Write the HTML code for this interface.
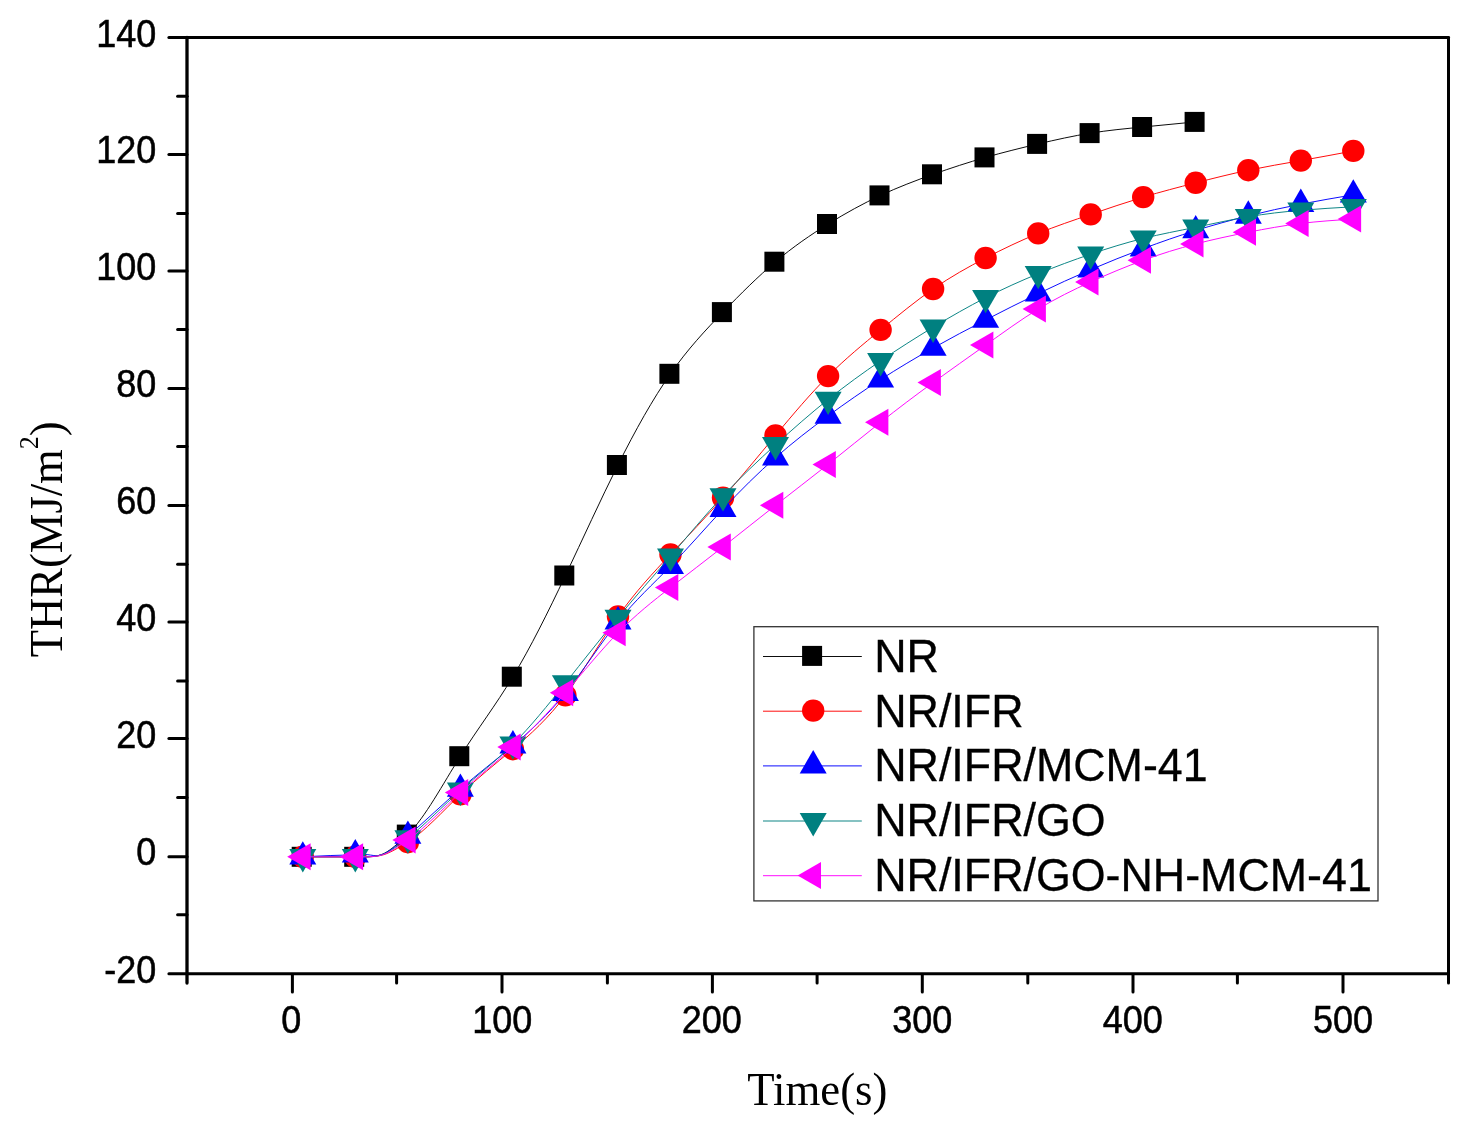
<!DOCTYPE html>
<html><head><meta charset="utf-8"><title>THR</title>
<style>html,body{margin:0;padding:0;background:#fff}svg{display:block}text{font-family:"Liberation Sans",sans-serif;fill:#000}.s{font-family:"Liberation Serif",serif}</style></head><body>
<svg width="1472" height="1136" viewBox="0 0 1472 1136">
<rect width="1472" height="1136" fill="#fff"/>
<path d="M302.81,856.80 C311.91,856.82 321.01,856.83 330.12,856.80 C338.52,856.77 346.93,856.70 355.33,856.80 C359.53,856.85 363.73,856.95 367.94,856.80 C371.44,856.68 374.94,856.39 378.44,855.47 C381.24,854.73 384.04,853.60 386.85,851.91 C390.35,849.80 393.85,846.84 397.35,843.91 C400.85,840.98 404.35,838.09 407.86,834.58 C425.36,817.03 442.87,784.06 460.38,756.21 C477.89,728.37 495.40,705.66 512.90,676.68 C530.41,647.70 547.92,612.45 565.43,575.51 C582.94,538.57 600.45,499.95 617.95,464.98 C635.46,430.02 652.97,398.73 670.48,373.76 C687.99,348.78 705.50,330.13 723.00,312.06 C740.51,293.98 758.02,276.48 775.53,261.71 C793.04,246.93 810.55,234.89 828.06,224.05 C845.56,213.20 863.07,203.56 880.58,195.39 C898.09,187.23 915.60,180.54 933.11,174.34 C950.61,168.13 968.12,162.40 985.63,157.38 C1003.14,152.36 1020.65,148.04 1038.15,143.93 C1055.66,139.81 1073.17,135.90 1090.68,133.11 C1108.19,130.32 1125.70,128.65 1143.20,126.97 C1160.71,125.29 1178.22,123.58 1195.73,121.88" fill="none" stroke="#000000" stroke-width="0.95"/>
<rect x="291.7" y="846.8" width="20" height="20" fill="#000000"/>
<rect x="344.2" y="846.8" width="20" height="20" fill="#000000"/>
<rect x="396.8" y="824.6" width="20" height="20" fill="#000000"/>
<rect x="449.3" y="746.2" width="20" height="20" fill="#000000"/>
<rect x="501.8" y="666.7" width="20" height="20" fill="#000000"/>
<rect x="554.3" y="565.5" width="20" height="20" fill="#000000"/>
<rect x="606.9" y="455.0" width="20" height="20" fill="#000000"/>
<rect x="659.4" y="363.8" width="20" height="20" fill="#000000"/>
<rect x="711.9" y="302.1" width="20" height="20" fill="#000000"/>
<rect x="764.4" y="251.7" width="20" height="20" fill="#000000"/>
<rect x="817.0" y="214.0" width="20" height="20" fill="#000000"/>
<rect x="869.5" y="185.4" width="20" height="20" fill="#000000"/>
<rect x="922.0" y="164.3" width="20" height="20" fill="#000000"/>
<rect x="974.5" y="147.4" width="20" height="20" fill="#000000"/>
<rect x="1027.1" y="133.9" width="20" height="20" fill="#000000"/>
<rect x="1079.6" y="123.1" width="20" height="20" fill="#000000"/>
<rect x="1132.1" y="117.0" width="20" height="20" fill="#000000"/>
<rect x="1184.6" y="111.9" width="20" height="20" fill="#000000"/>
<path d="M302.81,856.80 C311.91,856.81 321.01,856.82 330.12,856.80 C338.52,856.78 346.93,856.73 355.33,856.80 C359.53,856.83 363.73,856.90 367.94,856.80 C371.44,856.72 374.94,856.53 378.44,855.92 C381.24,855.44 384.04,854.69 386.85,853.58 C390.35,852.20 393.85,850.26 397.35,848.32 C400.85,846.38 404.35,844.45 407.86,842.18 C425.36,830.84 442.87,811.13 460.38,794.40 C477.89,777.68 495.40,763.94 512.90,749.20 C530.41,734.45 547.92,718.70 565.43,695.40 C582.94,672.09 600.45,641.23 617.95,616.45 C635.46,591.67 652.97,572.97 670.48,554.46 C687.99,535.94 705.50,517.60 723.00,497.73 C740.51,477.86 758.02,456.46 775.53,435.39 C793.04,414.33 810.55,393.61 828.06,376.09 C845.56,358.58 863.07,344.27 880.58,329.90 C898.09,315.52 915.60,301.08 933.11,288.96 C950.61,276.84 968.12,267.04 985.63,257.96 C1003.14,248.89 1020.65,240.54 1038.15,233.40 C1055.66,226.27 1073.17,220.36 1090.68,214.40 C1108.19,208.44 1125.70,202.43 1143.20,197.15 C1160.71,191.86 1178.22,187.31 1195.73,182.82 C1213.24,178.33 1230.75,173.91 1248.26,170.24 C1265.76,166.58 1283.27,163.69 1300.78,160.60 C1318.29,157.51 1335.80,154.23 1353.30,150.95" fill="none" stroke="#ff0000" stroke-width="0.95"/>
<circle cx="302.8" cy="856.8" r="11.2" fill="#ff0000"/>
<circle cx="355.3" cy="856.8" r="11.2" fill="#ff0000"/>
<circle cx="407.9" cy="842.2" r="11.2" fill="#ff0000"/>
<circle cx="460.4" cy="794.4" r="11.2" fill="#ff0000"/>
<circle cx="512.9" cy="749.2" r="11.2" fill="#ff0000"/>
<circle cx="565.4" cy="695.4" r="11.2" fill="#ff0000"/>
<circle cx="618.0" cy="616.4" r="11.2" fill="#ff0000"/>
<circle cx="670.5" cy="554.5" r="11.2" fill="#ff0000"/>
<circle cx="723.0" cy="497.7" r="11.2" fill="#ff0000"/>
<circle cx="775.5" cy="435.4" r="11.2" fill="#ff0000"/>
<circle cx="828.1" cy="376.1" r="11.2" fill="#ff0000"/>
<circle cx="880.6" cy="329.9" r="11.2" fill="#ff0000"/>
<circle cx="933.1" cy="289.0" r="11.2" fill="#ff0000"/>
<circle cx="985.6" cy="258.0" r="11.2" fill="#ff0000"/>
<circle cx="1038.2" cy="233.4" r="11.2" fill="#ff0000"/>
<circle cx="1090.7" cy="214.4" r="11.2" fill="#ff0000"/>
<circle cx="1143.2" cy="197.1" r="11.2" fill="#ff0000"/>
<circle cx="1195.7" cy="182.8" r="11.2" fill="#ff0000"/>
<circle cx="1248.3" cy="170.2" r="11.2" fill="#ff0000"/>
<circle cx="1300.8" cy="160.6" r="11.2" fill="#ff0000"/>
<circle cx="1353.3" cy="150.9" r="11.2" fill="#ff0000"/>
<path d="M302.81,856.80 C311.91,856.32 321.01,855.85 330.12,855.54 C338.52,855.25 346.93,855.11 355.33,854.69 C359.53,854.49 363.73,854.21 367.94,854.69 C371.44,855.10 374.94,856.03 378.44,855.55 C381.24,855.17 384.04,853.87 386.85,852.22 C390.35,850.15 393.85,847.51 397.35,844.73 C400.85,841.94 404.35,838.99 407.86,835.98 C425.36,820.92 442.87,804.09 460.38,788.96 C477.89,773.84 495.40,760.41 512.90,745.69 C530.41,730.96 547.92,714.93 565.43,693.06 C582.94,671.18 600.45,643.46 617.95,621.71 C635.46,599.96 652.97,584.16 670.48,566.15 C687.99,548.14 705.50,527.91 723.00,509.14 C740.51,490.36 758.02,473.03 775.53,457.62 C793.04,442.20 810.55,428.69 828.06,415.86 C845.56,403.04 863.07,390.90 880.58,379.60 C898.09,368.31 915.60,357.86 933.11,348.02 C950.61,338.19 968.12,328.98 985.63,319.95 C1003.14,310.92 1020.65,302.08 1038.15,293.64 C1055.66,285.20 1073.17,277.17 1090.68,269.66 C1108.19,262.15 1125.70,255.16 1143.20,248.61 C1160.71,242.05 1178.22,235.94 1195.73,230.48 C1213.24,225.02 1230.75,220.21 1248.26,215.86 C1265.76,211.50 1283.27,207.60 1300.78,204.16 C1318.29,200.73 1335.80,197.77 1353.30,194.81" fill="none" stroke="#0000ff" stroke-width="0.95"/>
<polygon points="302.8,841.2 289.3,864.6 316.3,864.6" fill="#0000ff"/>
<polygon points="355.3,839.1 341.8,862.5 368.8,862.5" fill="#0000ff"/>
<polygon points="407.9,820.4 394.4,843.8 421.4,843.8" fill="#0000ff"/>
<polygon points="460.4,773.4 446.9,796.8 473.9,796.8" fill="#0000ff"/>
<polygon points="512.9,730.1 499.4,753.5 526.4,753.5" fill="#0000ff"/>
<polygon points="565.4,677.5 551.9,700.9 578.9,700.9" fill="#0000ff"/>
<polygon points="618.0,606.1 604.5,629.5 631.5,629.5" fill="#0000ff"/>
<polygon points="670.5,550.6 657.0,573.9 684.0,573.9" fill="#0000ff"/>
<polygon points="723.0,493.5 709.5,516.9 736.5,516.9" fill="#0000ff"/>
<polygon points="775.5,442.0 762.0,465.4 789.0,465.4" fill="#0000ff"/>
<polygon points="828.1,400.3 814.6,423.7 841.6,423.7" fill="#0000ff"/>
<polygon points="880.6,364.0 867.1,387.4 894.1,387.4" fill="#0000ff"/>
<polygon points="933.1,332.4 919.6,355.8 946.6,355.8" fill="#0000ff"/>
<polygon points="985.6,304.4 972.1,327.7 999.1,327.7" fill="#0000ff"/>
<polygon points="1038.2,278.0 1024.7,301.4 1051.7,301.4" fill="#0000ff"/>
<polygon points="1090.7,254.1 1077.2,277.5 1104.2,277.5" fill="#0000ff"/>
<polygon points="1143.2,233.0 1129.7,256.4 1156.7,256.4" fill="#0000ff"/>
<polygon points="1195.7,214.9 1182.2,238.3 1209.2,238.3" fill="#0000ff"/>
<polygon points="1248.3,200.3 1234.8,223.7 1261.8,223.7" fill="#0000ff"/>
<polygon points="1300.8,188.6 1287.3,212.0 1314.3,212.0" fill="#0000ff"/>
<polygon points="1353.3,179.2 1339.8,202.6 1366.8,202.6" fill="#0000ff"/>
<path d="M302.81,856.80 C311.91,856.81 321.01,856.83 330.12,856.80 C338.52,856.77 346.93,856.71 355.33,856.80 C359.53,856.84 363.73,856.92 367.94,856.80 C371.44,856.70 374.94,856.45 378.44,855.68 C381.24,855.06 384.04,854.09 386.85,852.68 C390.35,850.92 393.85,848.47 397.35,845.95 C400.85,843.43 404.35,840.84 407.86,838.09 C425.36,824.29 442.87,806.09 460.38,790.43 C477.89,774.76 495.40,761.63 512.90,744.23 C530.41,726.82 547.92,705.14 565.43,683.11 C582.94,661.09 600.45,638.73 617.95,617.62 C635.46,596.51 652.97,576.66 670.48,556.21 C687.99,535.77 705.50,514.74 723.00,495.98 C740.51,477.22 758.02,460.74 775.53,444.81 C793.04,428.88 810.55,413.51 828.06,399.49 C845.56,385.47 863.07,372.80 880.58,360.89 C898.09,348.98 915.60,337.84 933.11,327.26 C950.61,316.69 968.12,306.67 985.63,297.73 C1003.14,288.79 1020.65,280.92 1038.15,273.75 C1055.66,266.59 1073.17,260.12 1090.68,254.16 C1108.19,248.21 1125.70,242.77 1143.20,238.43 C1160.71,234.10 1178.22,230.86 1195.73,227.26 C1213.24,223.66 1230.75,219.70 1248.26,216.74 C1265.76,213.77 1283.27,211.79 1300.78,210.30 C1318.29,208.81 1335.80,207.80 1353.30,206.79" fill="none" stroke="#008080" stroke-width="0.95"/>
<polygon points="302.8,872.4 289.3,849.0 316.3,849.0" fill="#008080"/>
<polygon points="355.3,872.4 341.8,849.0 368.8,849.0" fill="#008080"/>
<polygon points="407.9,853.7 394.4,830.3 421.4,830.3" fill="#008080"/>
<polygon points="460.4,806.0 446.9,782.6 473.9,782.6" fill="#008080"/>
<polygon points="512.9,759.8 499.4,736.4 526.4,736.4" fill="#008080"/>
<polygon points="565.4,698.7 551.9,675.3 578.9,675.3" fill="#008080"/>
<polygon points="618.0,633.2 604.5,609.8 631.5,609.8" fill="#008080"/>
<polygon points="670.5,571.8 657.0,548.4 684.0,548.4" fill="#008080"/>
<polygon points="723.0,511.6 709.5,488.2 736.5,488.2" fill="#008080"/>
<polygon points="775.5,460.4 762.0,437.0 789.0,437.0" fill="#008080"/>
<polygon points="828.1,415.1 814.6,391.7 841.6,391.7" fill="#008080"/>
<polygon points="880.6,376.5 867.1,353.1 894.1,353.1" fill="#008080"/>
<polygon points="933.1,342.9 919.6,319.5 946.6,319.5" fill="#008080"/>
<polygon points="985.6,313.3 972.1,289.9 999.1,289.9" fill="#008080"/>
<polygon points="1038.2,289.3 1024.7,266.0 1051.7,266.0" fill="#008080"/>
<polygon points="1090.7,269.8 1077.2,246.4 1104.2,246.4" fill="#008080"/>
<polygon points="1143.2,254.0 1129.7,230.6 1156.7,230.6" fill="#008080"/>
<polygon points="1195.7,242.9 1182.2,219.5 1209.2,219.5" fill="#008080"/>
<polygon points="1248.3,232.3 1234.8,208.9 1261.8,208.9" fill="#008080"/>
<polygon points="1300.8,225.9 1287.3,202.5 1314.3,202.5" fill="#008080"/>
<polygon points="1353.3,222.4 1339.8,199.0 1366.8,199.0" fill="#008080"/>
<path d="M302.81,856.80 C311.91,856.81 321.01,856.82 330.12,856.80 C338.52,856.78 346.93,856.72 355.33,856.80 C359.53,856.84 363.73,856.91 367.94,856.80 C371.44,856.71 374.94,856.49 378.44,855.80 C381.24,855.24 384.04,854.38 386.85,853.12 C390.35,851.54 393.85,849.34 397.35,847.10 C400.85,844.86 404.35,842.59 407.86,840.07 C425.36,827.49 442.87,808.70 460.38,792.59 C477.89,776.48 495.40,763.06 512.90,747.15 C530.41,731.24 547.92,712.84 565.43,692.71 C582.94,672.57 600.45,650.69 617.95,632.82 C635.46,614.95 652.97,601.10 670.48,587.50 C687.99,573.90 705.50,560.57 723.00,546.86 C740.51,533.14 758.02,519.05 775.53,505.34 C793.04,491.62 810.55,478.28 828.06,464.40 C845.56,450.52 863.07,436.11 880.58,422.29 C898.09,408.47 915.60,395.25 933.11,382.53 C950.61,369.81 968.12,357.60 985.63,345.10 C1003.14,332.60 1020.65,319.81 1038.15,309.13 C1055.66,298.46 1073.17,289.89 1090.68,281.94 C1108.19,274.00 1125.70,266.68 1143.20,260.30 C1160.71,253.93 1178.22,248.49 1195.73,243.93 C1213.24,239.37 1230.75,235.67 1248.26,232.23 C1265.76,228.80 1283.27,225.61 1300.78,223.46 C1318.29,221.31 1335.80,220.19 1353.30,219.08" fill="none" stroke="#ff00ff" stroke-width="0.95"/>
<polygon points="287.2,856.8 310.6,843.3 310.6,870.3" fill="#ff00ff"/>
<polygon points="339.7,856.8 363.1,843.3 363.1,870.3" fill="#ff00ff"/>
<polygon points="392.3,840.1 415.6,826.6 415.6,853.6" fill="#ff00ff"/>
<polygon points="444.8,792.6 468.2,779.1 468.2,806.1" fill="#ff00ff"/>
<polygon points="497.3,747.1 520.7,733.6 520.7,760.6" fill="#ff00ff"/>
<polygon points="549.8,692.7 573.2,679.2 573.2,706.2" fill="#ff00ff"/>
<polygon points="602.4,632.8 625.7,619.3 625.7,646.3" fill="#ff00ff"/>
<polygon points="654.9,587.5 678.3,574.0 678.3,601.0" fill="#ff00ff"/>
<polygon points="707.4,546.9 730.8,533.4 730.8,560.4" fill="#ff00ff"/>
<polygon points="759.9,505.3 783.3,491.8 783.3,518.8" fill="#ff00ff"/>
<polygon points="812.5,464.4 835.8,450.9 835.8,477.9" fill="#ff00ff"/>
<polygon points="865.0,422.3 888.4,408.8 888.4,435.8" fill="#ff00ff"/>
<polygon points="917.5,382.5 940.9,369.0 940.9,396.0" fill="#ff00ff"/>
<polygon points="970.0,345.1 993.4,331.6 993.4,358.6" fill="#ff00ff"/>
<polygon points="1022.6,309.1 1045.9,295.6 1045.9,322.6" fill="#ff00ff"/>
<polygon points="1075.1,281.9 1098.5,268.4 1098.5,295.4" fill="#ff00ff"/>
<polygon points="1127.6,260.3 1151.0,246.8 1151.0,273.8" fill="#ff00ff"/>
<polygon points="1180.1,243.9 1203.5,230.4 1203.5,257.4" fill="#ff00ff"/>
<polygon points="1232.7,232.2 1256.0,218.7 1256.0,245.7" fill="#ff00ff"/>
<polygon points="1285.2,223.5 1308.6,210.0 1308.6,237.0" fill="#ff00ff"/>
<polygon points="1337.7,219.1 1361.1,205.6 1361.1,232.6" fill="#ff00ff"/>
<g stroke="#000" stroke-width="3" stroke-linecap="round" fill="none">
<path d="M168.9,37.5 H1448.5"/>
<path d="M168.9,973.7 H1448.5"/>
<path stroke-width="3.3" d="M187.0,37.5 V983.1"/>
<path d="M1448.5,37.5 V983.1"/>
<path d="M177.6,914.8 H187.0"/>
<path d="M168.9,856.7 H187.0"/>
<path d="M177.6,797.4 H187.0"/>
<path d="M168.9,738.6 H187.0"/>
<path d="M177.6,680.9 H187.0"/>
<path d="M168.9,622.0 H187.0"/>
<path d="M177.6,564.3 H187.0"/>
<path d="M168.9,505.4 H187.0"/>
<path d="M177.6,446.4 H187.0"/>
<path d="M168.9,388.6 H187.0"/>
<path d="M177.6,329.6 H187.0"/>
<path d="M168.9,271.0 H187.0"/>
<path d="M177.6,213.4 H187.0"/>
<path d="M168.9,154.4 H187.0"/>
<path d="M177.6,96.3 H187.0"/>
<path d="M292.4,974.7 V992.0"/>
<path d="M396.6,974.7 V983.1"/>
<path d="M502.0,974.7 V992.0"/>
<path d="M607.4,974.7 V983.1"/>
<path d="M712.4,974.7 V992.0"/>
<path d="M817.1,974.7 V983.1"/>
<path d="M922.3,974.7 V992.0"/>
<path d="M1027.8,974.7 V983.1"/>
<path d="M1133.0,974.7 V992.0"/>
<path d="M1237.4,974.7 V983.1"/>
<path d="M1343.0,974.7 V992.0"/>
</g>
<text transform="translate(156.2,983.4) scale(1,1.060)" font-size="36" stroke="#000" stroke-width="0.5" text-anchor="end">-20</text>
<text transform="translate(156.2,864.8) scale(1,1.060)" font-size="36" stroke="#000" stroke-width="0.5" text-anchor="end">0</text>
<text transform="translate(156.2,747.5) scale(1,1.060)" font-size="36" stroke="#000" stroke-width="0.5" text-anchor="end">20</text>
<text transform="translate(156.2,631.2) scale(1,1.060)" font-size="36" stroke="#000" stroke-width="0.5" text-anchor="end">40</text>
<text transform="translate(156.2,514.4) scale(1,1.060)" font-size="36" stroke="#000" stroke-width="0.5" text-anchor="end">60</text>
<text transform="translate(156.2,396.9) scale(1,1.060)" font-size="36" stroke="#000" stroke-width="0.5" text-anchor="end">80</text>
<text transform="translate(156.2,280.3) scale(1,1.060)" font-size="36" stroke="#000" stroke-width="0.5" text-anchor="end">100</text>
<text transform="translate(156.2,163.3) scale(1,1.060)" font-size="36" stroke="#000" stroke-width="0.5" text-anchor="end">120</text>
<text transform="translate(156.2,46.9) scale(1,1.060)" font-size="36" stroke="#000" stroke-width="0.5" text-anchor="end">140</text>
<text transform="translate(291.2,1032.5) scale(1,1.060)" font-size="36" stroke="#000" stroke-width="0.5" text-anchor="middle">0</text>
<text transform="translate(502.3,1032.5) scale(1,1.060)" font-size="36" stroke="#000" stroke-width="0.5" text-anchor="middle">100</text>
<text transform="translate(711.7,1032.5) scale(1,1.060)" font-size="36" stroke="#000" stroke-width="0.5" text-anchor="middle">200</text>
<text transform="translate(922.3,1032.5) scale(1,1.060)" font-size="36" stroke="#000" stroke-width="0.5" text-anchor="middle">300</text>
<text transform="translate(1132.8,1032.5) scale(1,1.060)" font-size="36" stroke="#000" stroke-width="0.5" text-anchor="middle">400</text>
<text transform="translate(1343.0,1032.5) scale(1,1.060)" font-size="36" stroke="#000" stroke-width="0.5" text-anchor="middle">500</text>
<text class="s" transform="translate(817.3,1104.8) scale(1,1.04)" font-size="44.8" text-anchor="middle">Time(s)</text>
<text class="s" transform="translate(62.4,539.3) rotate(-90) scale(1,1.06)" font-size="44.6" text-anchor="middle">THR(MJ/m<tspan font-size="26" dy="-23.3">2</tspan><tspan dy="23.3">)</tspan></text>
<rect x="753.9" y="626.7" width="624.1" height="274.2" fill="#fff" stroke="#333" stroke-width="1.3"/>
<path d="M763,656.5 H861.8" stroke="#000000" stroke-width="0.95"/>
<rect x="802.1" y="645.9" width="20" height="20" fill="#000000"/>
<text transform="translate(874.2,672.1) scale(1,1.05)" font-size="44.8" stroke="#000" stroke-width="0.3">NR</text>
<path d="M763,711.2 H861.8" stroke="#ff0000" stroke-width="0.95"/>
<circle cx="813.2" cy="710.6" r="11.2" fill="#ff0000"/>
<text transform="translate(874.2,726.5) scale(1,1.05)" font-size="44.8" stroke="#000" stroke-width="0.3">NR/IFR</text>
<path d="M763,765.9 H861.8" stroke="#0000ff" stroke-width="0.95"/>
<polygon points="813.2,750.1 799.7,773.5 826.7,773.5" fill="#0000ff"/>
<text transform="translate(874.2,781.2) scale(1,1.05)" font-size="44.8" stroke="#000" stroke-width="0.3">NR/IFR/MCM-41</text>
<path d="M763,821.0 H861.8" stroke="#008080" stroke-width="0.95"/>
<polygon points="813.2,836.4 799.7,813.0 826.7,813.0" fill="#008080"/>
<text transform="translate(874.2,836.3) scale(1,1.05)" font-size="44.8" stroke="#000" stroke-width="0.3">NR/IFR/GO</text>
<path d="M763,875.7 H861.8" stroke="#ff00ff" stroke-width="0.95"/>
<polygon points="797.6,875.5 821.0,862.0 821.0,889.0" fill="#ff00ff"/>
<text transform="translate(874.2,891.1) scale(1,1.05)" font-size="44.8" stroke="#000" stroke-width="0.3">NR/IFR/GO-NH-MCM-41</text>
</svg></body></html>
